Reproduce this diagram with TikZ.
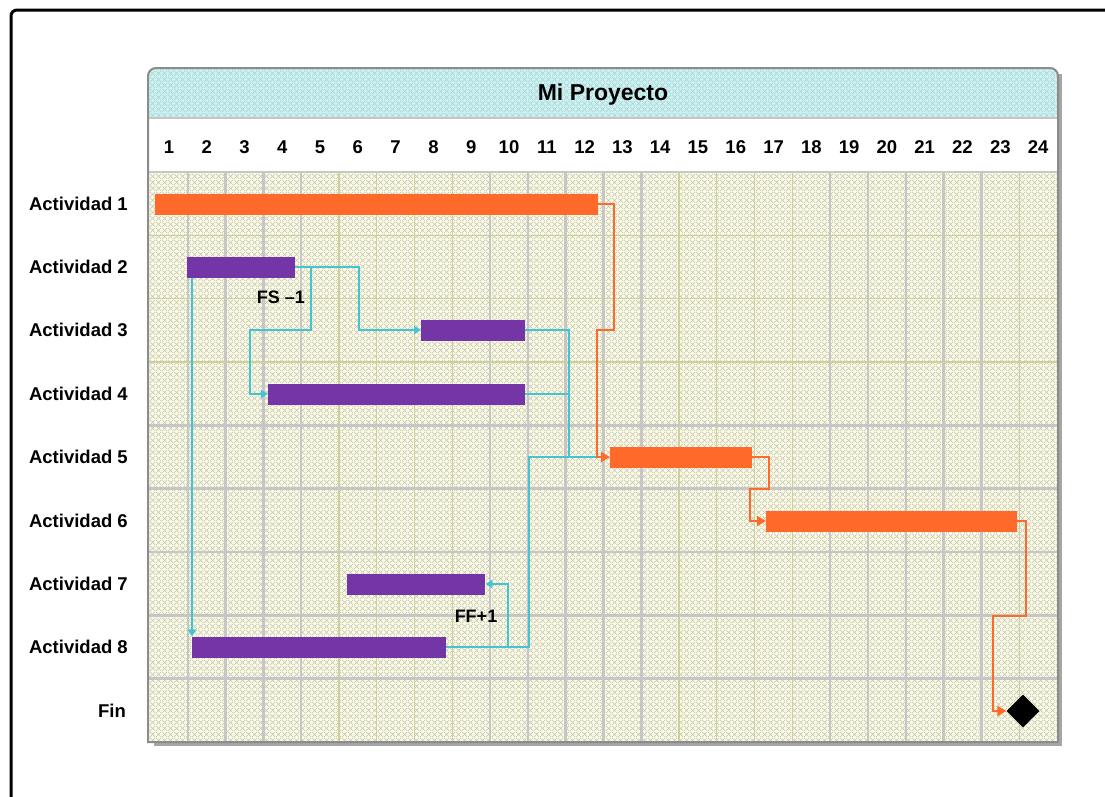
\documentclass[tikz,border=0pt]{standalone}
\usepackage{fontspec}
\setmainfont{Liberation Sans}
\usetikzlibrary{shapes.geometric,arrows.meta,patterns.meta}

\definecolor{gridbg}{HTML}{FBFBE0}
\definecolor{hdrbg}{HTML}{C2F6F6}
\definecolor{critc}{HTML}{FF6A2A}
\definecolor{purp}{HTML}{7436A6}
\definecolor{cyanl}{HTML}{44C4CF}
\definecolor{gline}{HTML}{C6C6C6}
\definecolor{oline}{HTML}{CFCF9E}

\tikzdeclarepattern{
  name=xhatch,
  type=uncolored,
  bottom left={(0pt,0pt)},
  top right={(6pt,6pt)},
  tile size={(6pt,6pt)},
  code={\draw[line width=0.6pt] (0pt,0pt) -- (6pt,6pt) (0pt,6pt) -- (6pt,0pt);}
}

\begin{document}
\begin{tikzpicture}[x=1pt,y=-1pt,
  lbl/.style={font=\fontsize{18.5}{20}\selectfont\bfseries, anchor=east, inner sep=0pt},
  num/.style={font=\fontsize{18.5}{20}\selectfont\bfseries, inner sep=0pt},
  ttl/.style={font=\fontsize{23}{25}\selectfont\bfseries, inner sep=0pt},
  note/.style={font=\fontsize{18}{20}\selectfont\bfseries, inner sep=0pt},
  bar/.style={inner sep=0pt, minimum height=21pt, anchor=west},
  critbar/.style={bar, fill=critc},
  purpbar/.style={bar, fill=purp},
  crit/.style={draw=critc, line width=2.2pt},
  critarrow/.style={crit, -{Triangle[length=9pt,width=10pt]}},
  link/.style={draw=cyanl, line width=2pt},
  linkarrow/.style={link, -{Triangle[length=7pt,width=8pt]}},
  thickgrid/.style={draw=gline, line width=2.5pt},
  thingrid/.style={draw=oline, line width=1.2pt}
]
\useasboundingbox (0,0) rectangle (1105,796);
\fill[white] (0,0) rectangle (1105,796);
% outer frame
\draw[line width=3pt, rounded corners=6pt] (11,810) -- (11,10) -- (1115,10);

% shadow of chart
\fill[black!35] (1056,74) rectangle (1062,746);
\fill[black!35] (154,740) rectangle (1062,746);

% header
\fill[hdrbg] (148,118) [rounded corners=8pt] -- (148,68) -- (1058,68) [sharp corners] -- (1058,118) -- cycle;
\fill[pattern=xhatch, pattern color=black!22] (148,118) [rounded corners=8pt] -- (148,68) -- (1058,68) [sharp corners] -- (1058,118) -- cycle;
% numbers row
\fill[white] (148,118) rectangle (1058,172);
\draw[gline, line width=1.5pt] (148,118) -- (1058,118);
% grid
\fill[gridbg] (148,172) rectangle (1058,742);
\fill[pattern=xhatch, pattern color=black!24] (148,172) rectangle (1058,742);
\draw[gline, line width=2.5pt] (148,172) -- (1058,172);
\foreach \k in {1,2,3,4,9,10,11,12,13,18,19,20,21,22}
  \draw[thickgrid] ({150+37.79*\k},172) -- ({150+37.79*\k},742);
\foreach \k in {5,6,7,8,14,15,16,17,23}
  \draw[thingrid] ({150+37.79*\k},172) -- ({150+37.79*\k},742);
\foreach \k in {1,2,3}
  \draw[thingrid] (148,{172+63.33*\k}) -- (1058,{172+63.33*\k});
\foreach \k in {4,...,8}
  \draw[thickgrid] (148,{172+63.33*\k}) -- (1058,{172+63.33*\k});
% chart border
\draw[black!45, line width=2pt] (148,742) [rounded corners=8pt] -- (148,68) -- (1058,68) [sharp corners] -- (1058,742) -- cycle;

% title and numbers
\node[ttl] (title) at (603,95) {Mi Proyecto};
\foreach \i in {1,...,24}
  \node[num] (n\i) at ({150+37.79*(\i-0.5)},147) {\i};

% row labels
\node[lbl] (l1) at (128,204) {Actividad 1};
\node[lbl] (l2) at (128,267) {Actividad 2};
\node[lbl] (l3) at (128,330) {Actividad 3};
\node[lbl] (l4) at (128,394) {Actividad 4};
\node[lbl] (l5) at (128,457) {Actividad 5};
\node[lbl] (l6) at (128,521) {Actividad 6};
\node[lbl] (l7) at (128,584) {Actividad 7};
\node[lbl] (l8) at (128,647) {Actividad 8};
\node[lbl] (l9) at (126,711) {Fin};

% bars
\node[critbar, minimum width=443pt] (a1) at (155,204) {};
\node[purpbar, minimum width=108pt] (a2) at (187,267) {};
\node[purpbar, minimum width=104pt] (a3) at (421,330) {};
\node[purpbar, minimum width=257pt] (a4) at (268,394) {};
\node[critbar, minimum width=142pt] (a5) at (610,457) {};
\node[critbar, minimum width=251pt] (a6) at (766,521) {};
\node[purpbar, minimum width=138pt] (a7) at (347,584) {};
\node[purpbar, minimum width=254pt] (a8) at (192,647) {};
\node[diamond, fill=black, minimum size=33pt, inner sep=0pt] (fin) at (1023,711) {};

% junction points
\coordinate (j5) at (597,457);
\coordinate (j4) at (569,394);
\coordinate (j8) at (569,457);

% cyan links
\draw[linkarrow] (a2.east) -| (359,330) -- (a3.west);
\draw[linkarrow] (a2.east) -| (311,330) -| (250,394) -- (a4.west);
\draw[linkarrow] ([xshift=5pt]a2.south west) -- (a8.north west);
\draw[link] (a3.east) -| (569,457) -- (j5);
\draw[link] (a4.east) -- (j4);
\draw[link] (a8.east) -| (529,457) -- (j8);
\draw[linkarrow] (a8.east) -| (508,584) -- (a7.east);

% critical path
\draw[critarrow] (a1.east) -| (614,330) -| (597,457) -- (a5.west);
\draw[critarrow] (a5.east) -| (769,489) -| (750,521) -- (a6.west);
\draw[critarrow] (a6.east) -| (1026,616) -| (993,711) -- (fin.west);

% lag labels
\node[note] (fs) at (281,297) {FS –1};
\node[note] (ff) at (476,616) {FF+1};
\end{tikzpicture}
\end{document}
